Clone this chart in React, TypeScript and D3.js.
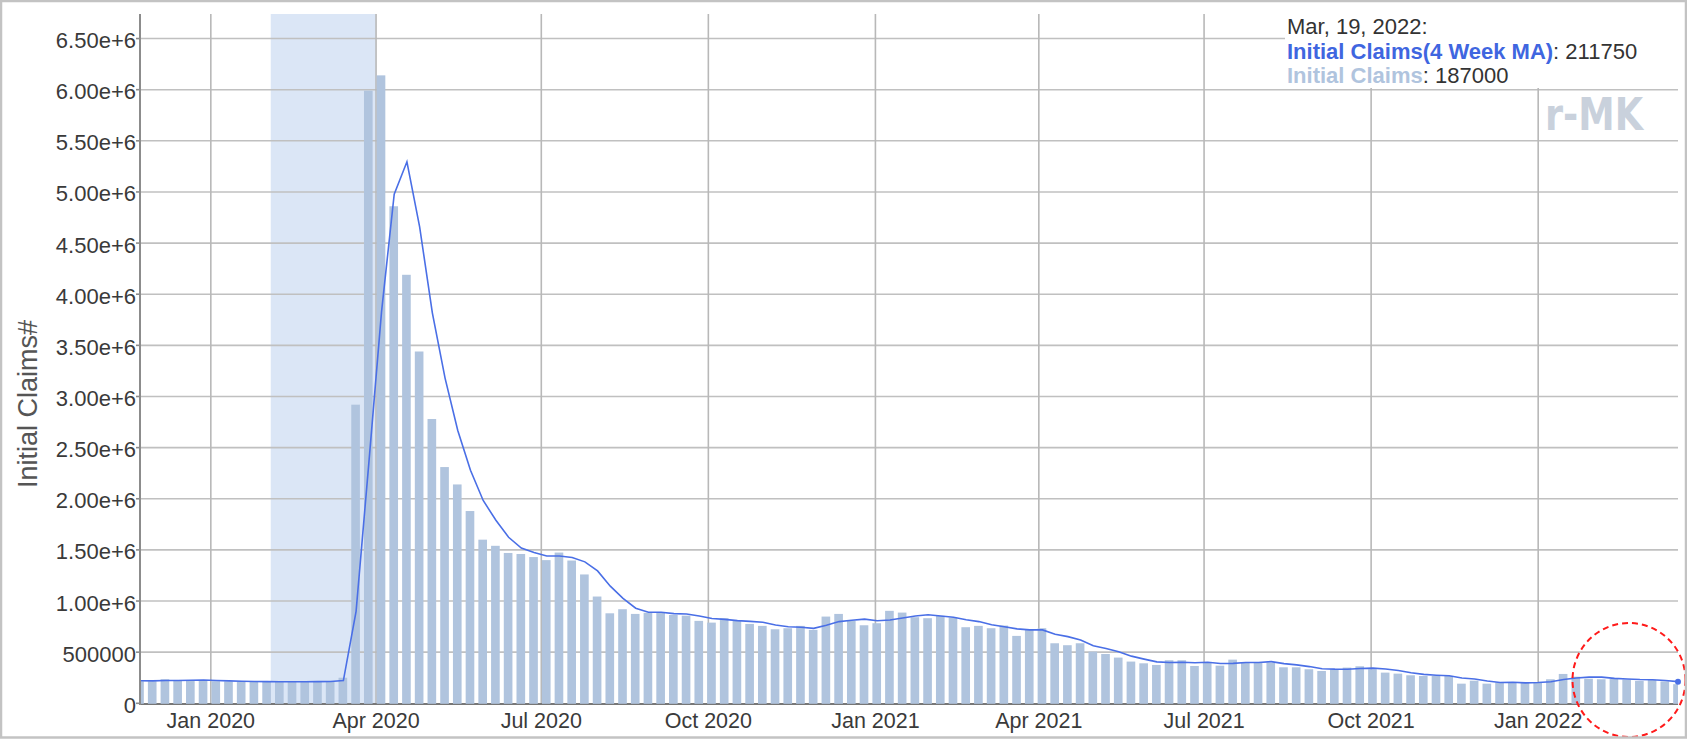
import React from 'react';
import * as d3 from 'd3';

// Weekly data (week ending Saturday), first week ending 2019-11-23
const firstWeek = '2019-11-23';
// Initial Claims, thousands
const initialClaims = [
  215, 215, 235, 228, 225, 222, 216, 214, 212, 211, 210, 210, 211, 212, 213, 214, 250,
  2920, 5990, 6140, 4860, 4190, 3440, 2780, 2310, 2140, 1880, 1600, 1540, 1470, 1460, 1430,
  1400, 1474, 1396, 1260, 1044, 880, 920, 874, 885, 885, 864, 857, 806, 789, 832, 806,
  776, 757, 724, 734, 757, 718, 848, 874, 806, 763, 783, 904, 887, 842, 832, 855, 838,
  744, 757, 734, 760, 659, 718, 734, 587, 568, 587, 505, 482, 447, 408, 391, 375, 421,
  421, 365, 401, 368, 427, 401, 401, 398, 352, 352, 333, 316, 333, 349, 362, 333, 300,
  290, 274, 267, 267, 267, 192, 221, 192, 205, 205, 199, 205, 235, 287, 260, 240, 235,
  240, 232, 219, 227, 214, 187,
];
// Initial Claims (4 Week MA), thousands
const initialClaimsMA4 = [
  221, 219, 223, 223, 226, 228, 223, 219, 216, 213, 212, 211, 211, 211, 212, 213, 222,
  899, 2344, 3825, 4978, 5295, 4658, 3818, 3180, 2668, 2278, 1983, 1790, 1623, 1518, 1475,
  1440, 1441, 1425, 1383, 1294, 1145, 1026, 930, 890, 891, 877, 873, 853, 829, 821, 808,
  801, 793, 766, 748, 743, 733, 764, 799, 812, 823, 807, 814, 834, 854, 866, 854, 842,
  817, 799, 768, 749, 728, 718, 718, 675, 652, 619, 562, 536, 505, 461, 432, 405, 399,
  402, 396, 402, 389, 390, 399, 399, 407, 388, 376, 359, 338, 334, 333, 340, 344, 336,
  321, 299, 283, 275, 269, 248, 237, 218, 203, 206, 200, 204, 211, 232, 247, 256, 256,
  244, 237, 232, 230, 223, 211.75,
];
const yTickValues = [0, 500000, 1000000, 1500000, 2000000, 2500000, 3000000, 3500000, 4000000, 4500000, 5000000, 5500000, 6000000, 6500000];
const xTickDates = ['2020-01-01', '2020-04-01', '2020-07-01', '2020-10-01', '2021-01-01', '2021-04-01', '2021-07-01', '2021-10-01', '2022-01-01'];
const xTickLabels = ['Jan 2020', 'Apr 2020', 'Jul 2020', 'Oct 2020', 'Jan 2021', 'Apr 2021', 'Jul 2021', 'Oct 2021', 'Jan 2022'];
const recessionSpan = ['2020-02-03', '2020-04-01'];
const legendDate = 'Mar, 19, 2022:';
const legendMA = 211750;
const legendClaims = 187000;

const FONT = '"Liberation Sans", Arial, Helvetica, sans-serif';
const parse = d3.utcParse('%Y-%m-%d');

export default function App() {
  const W = 1687;
  const H = 739;
  const left = 140;
  const right = 1678;
  const top = 14;
  const bottom = 703.3;

  const start = parse(firstWeek) as Date;
  const dates = initialClaims.map((_, i) => d3.utcDay.offset(start, 7 * i));
  const x = d3.scaleUtc().domain([dates[0], dates[dates.length - 1]]).range([left, right]);
  const y = d3.scaleLinear().domain([0, 6740000]).range([bottom, top]);

  const step = x(dates[1]) - x(dates[0]);
  const barW = step * 0.68;

  const line = d3
    .line<number>()
    .x((_, i) => x(dates[i]))
    .y((d) => y(d * 1000));
  const linePath = line(initialClaimsMA4) || '';

  const fmtY = (v: number) => (v === 0 ? '0' : v < 1000000 ? String(v) : v.toExponential(2));

  const recX0 = x(parse(recessionSpan[0]) as Date);
  const recX1 = x(parse(recessionSpan[1]) as Date);
  const lastX = x(dates[dates.length - 1]);

  return (
    <svg
      width={W}
      height={H}
      style={{ position: 'absolute', left: 0, top: 0, background: '#fff' }}
      fontFamily={FONT}
    >
      <defs>
        <clipPath id="plotClip">
          <rect x={left} y={top} width={right - left} height={bottom - top + 3} />
        </clipPath>
      </defs>
      <rect x={0} y={0} width={W} height={H} fill="#fff" />
      {/* recession shading */}
      <rect x={recX0} y={top} width={recX1 - recX0} height={bottom - top} fill="#dbe6f6" />
      {/* horizontal grid */}
      {yTickValues.slice(1).map((v) => (
        <line key={'h' + v} x1={left} x2={right} y1={y(v)} y2={y(v)} stroke="#c0c0c0" strokeWidth={1.6} />
      ))}
      {/* vertical grid */}
      {xTickDates.map((d) => {
        const xx = x(parse(d) as Date);
        return <line key={'v' + d} x1={xx} x2={xx} y1={top} y2={bottom} stroke="#b8b8b8" strokeWidth={1.6} />;
      })}
      {/* x axis baseline */}
      <line x1={left} x2={right} y1={bottom + 0.7} y2={bottom + 0.7} stroke="#777" strokeWidth={2} />
      {/* bars */}
      <g clipPath="url(#plotClip)">
        {initialClaims.map((v, i) => {
          const cx = x(dates[i]) - 0.5;
          const yt = y(v * 1000);
          return <rect key={'b' + i} x={cx - barW / 2} y={yt} width={barW} height={bottom + 0.5 - yt} fill="#b0c4de" />;
        })}
        <path d={linePath} fill="none" stroke="#4a6fe6" strokeWidth={1.6} />
      </g>
      <circle cx={lastX} cy={y(legendMA)} r={3} fill="#4a6fe6" />
      {/* y axis */}
      <line x1={left} x2={left} y1={top} y2={bottom + 1.7} stroke="#8c8c8c" strokeWidth={2} />
      {yTickValues.map((v) => (
        <g key={'yt' + v}>
          <line x1={left - 4} x2={left} y1={y(v)} y2={y(v)} stroke="#8c8c8c" strokeWidth={1.6} />
          <text x={left - 4} y={y(v) + 9.5} textAnchor="end" fontSize={22} fill="#3a3a3a">
            {fmtY(v)}
          </text>
        </g>
      ))}
      {/* x tick labels */}
      {xTickDates.map((d, i) => (
        <text key={'xt' + d} x={x(parse(d) as Date)} y={728} textAnchor="middle" fontSize={21.5} fill="#3a3a3a">
          {xTickLabels[i]}
        </text>
      ))}
      {/* y axis title */}
      <text transform={`translate(37, 404) rotate(-90)`} textAnchor="middle" fontSize={27} fill="#555">
        Initial Claims#
      </text>
      {/* legend */}
      <rect x={1285} y={top} width={right - 1285} height={74} fill="#fff" />
      <text x={1287} y={34} fontSize={22} fill="#333">
        {legendDate}
      </text>
      <text x={1287} y={58.5} fontSize={22} fill="#333">
        <tspan fontWeight="bold" fill="#3f66e0">Initial Claims(4 Week MA)</tspan>
        <tspan>: {legendMA}</tspan>
      </text>
      <text x={1287} y={83} fontSize={22} fill="#333">
        <tspan fontWeight="bold" fill="#b0c4de">Initial Claims</tspan>
        <tspan>: {legendClaims}</tspan>
      </text>
      {/* watermark */}
      <text
        x={1545}
        y={130}
        fontSize={45}
        fontWeight="bold"
        fontFamily='"DejaVu Sans", sans-serif'
        fill="#c9d1dc"
        textLength={98}
        lengthAdjust="spacingAndGlyphs"
      >
        r-MK
      </text>
      {/* red dashed circle annotation */}
      <ellipse cx={1629} cy={680} rx={56.5} ry={57} fill="none" stroke="#ff1a1a" strokeWidth={2} strokeDasharray="6 4" />
      {/* outer frame */}
      <rect x={1} y={1} width={W - 2} height={H - 2.5} fill="none" stroke="#c3c3c3" strokeWidth={2.5} />
    </svg>
  );
}
